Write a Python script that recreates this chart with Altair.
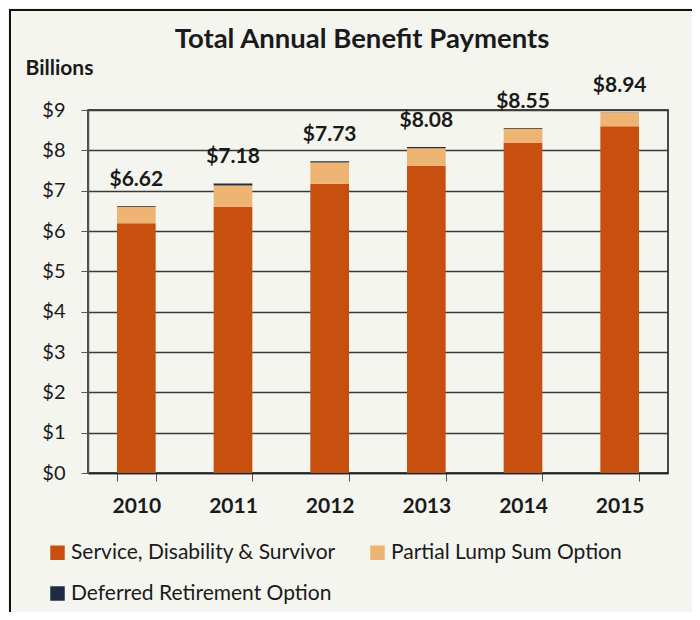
import altair as alt
import pandas as pd

years = ["2010", "2011", "2012", "2013", "2014", "2015"]
service = [6.19, 6.60, 7.17, 7.62, 8.19, 8.60]
lump = [0.41, 0.53, 0.53, 0.43, 0.34, 0.33]
dro = [0.02, 0.05, 0.03, 0.03, 0.02, 0.01]
totals = [6.62, 7.18, 7.73, 8.08, 8.55, 8.94]
series = ["Service, Disability & Survivor", "Partial Lump Sum Option", "Deferred Retirement Option"]
colors = ["#C8500E", "#EDB473", "#1E2B45"]

rows = []
for i, yr in enumerate(years):
    for k, vals in enumerate([service, lump, dro]):
        rows.append({"year": yr, "series": series[k], "value": vals[i], "order": k})
df = pd.DataFrame(rows)
tot = pd.DataFrame({"year": years, "total": totals,
                    "label": ["$%.2f" % t for t in totals]})

FONT = "Lato"

x_enc = alt.X("year:N", title=None,
              scale=alt.Scale(paddingInner=0.6, paddingOuter=0.3),
              axis=alt.Axis(labelFontSize=21, labelFontWeight="bold", labelColor="#1a1a1a",
                            labelPadding=14, labelAngle=0, tickBand="extent", tickSize=8,
                            tickColor="#555", domainColor="#222", domainWidth=1.5))
y_enc = alt.Y("sum(value):Q",
              scale=alt.Scale(domain=[0, 9], nice=False),
              axis=alt.Axis(values=list(range(10)), labelExpr="'$' + datum.value",
                            labelFontSize=20, labelColor="#1a1a1a", labelPadding=16,
                            tickSize=7, tickColor="#555", domainColor="#555", domainWidth=1.5,
                            gridColor="#3a3a3a", gridWidth=1.3,
                            title="Billions", titleAngle=0, titleX=-63, titleY=-42,
                            titleAlign="left", titleBaseline="middle",
                            titleFontSize=21, titleFontWeight="bold", titleColor="#1a1a1a"))

bars = alt.Chart(df).mark_bar().encode(
    x=x_enc,
    y=y_enc,
    color=alt.Color("series:N", sort=series,
                    scale=alt.Scale(domain=series, range=colors),
                    legend=alt.Legend(title=None, orient="none", legendX=-41, legendY=432,
                                      direction="horizontal",
                                      columns=2, symbolType="square", symbolSize=210,
                                      symbolStrokeWidth=0, labelFontSize=21, labelLimit=400,
                                      labelColor="#1a1a1a", columnPadding=31,
                                      rowPadding=19, labelOffset=3)),
    order=alt.Order("order:Q", sort="ascending"),
)

labels = alt.Chart(tot).mark_text(dy=-26, fontSize=21, fontWeight="bold",
                                  font=FONT, color="#1a1a1a").encode(
    x=alt.X("year:N"),
    y=alt.Y("total:Q"),
    text="label:N",
)

frame = alt.Chart(tot).mark_rect(fill=None, stroke="#111", strokeWidth=2).encode(
    x=alt.value(-78), x2=alt.value(609), y=alt.value(-100), y2=alt.value(530)
)

chart = alt.layer(frame, bars, labels).properties(
    width=580, height=363,
    title=alt.TitleParams("Total Annual Benefit Payments", fontSize=27.5, fontWeight="bold",
                          anchor="middle", frame="group", offset=-44, dx=-16,
                          color="#1a1a1a", font=FONT),
    autosize=alt.AutoSizeParams(type="none"),
    padding={"left": 80, "top": 102, "right": 24, "bottom": 139},
    background="#F4F5EF",
).configure(font=FONT).configure_view(
    stroke="#111", strokeWidth=1.5, fill="#F4F5EF"
)

chart.save("out.html", embed_options={"renderer": "svg", "actions": False})
